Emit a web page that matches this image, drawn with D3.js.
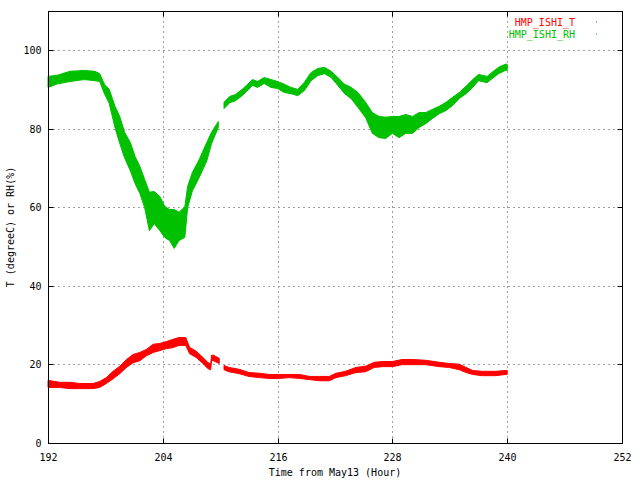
<!DOCTYPE html>
<html>
<head>
<meta charset="utf-8">
<script src="https://cdn.jsdelivr.net/npm/d3@7"></script>
<style>
  html, body { margin: 0; padding: 0; background: #fff; }
  svg { display: block; }
  text { font-family: "DejaVu Sans Mono", "Liberation Mono", monospace; font-size: 10px; fill: #000; }
</style>
</head>
<body>
<svg id="chart" width="640" height="480"></svg>
<script>
// ---- Data ----
const xTicks = [192, 204, 216, 228, 240, 252];
const yTicks = [0, 20, 40, 60, 80, 100];

// RH series: hour, lower and upper edge of the noisy band (null = gap in record)
const rhHour = [192.0,193.0,194.3,195.8,196.9,197.4,197.9,198.4,199.0,199.5,200.0,200.6,201.1,201.6,202.1,202.6,203.1,203.7,204.2,204.7,205.2,205.7,206.3,206.6,207.1,207.8,208.6,209.1,209.8,210.1,210.4,211.0,211.6,212.3,213.4,213.9,214.6,215.3,216.0,216.7,217.4,218.1,218.8,219.5,220.2,220.9,221.6,222.3,223.0,223.7,224.4,225.2,225.9,226.6,227.3,228.0,228.7,229.4,230.1,230.8,231.5,232.2,232.9,233.6,234.3,235.0,235.7,236.4,237.0,237.9,238.4,239.1,239.8,240.0];
const rhLow  = [90.7,91.6,92.2,92.7,92.4,92.2,89.1,86.6,80.5,76.4,72.8,69.5,66.2,63.7,60.1,54.2,56.0,54.2,52.5,51.7,49.7,51.7,52.5,60.1,64.4,67.7,72.0,76.4,80.5,null,85.3,86.8,87.3,88.6,91.2,90.7,91.7,90.7,90.4,89.4,89.1,88.6,89.9,92.4,93.7,94.2,93.2,91.2,89.1,87.8,85.6,83.0,79.0,77.9,77.7,79.0,77.9,79.0,79.0,80.5,81.5,82.8,84.0,84.8,86.1,87.9,89.1,90.7,92.4,91.9,92.9,94.2,95.0,95.0];
const rhHigh = [93.2,93.5,94.5,94.7,94.5,93.9,91.2,89.9,85.6,83.0,79.0,76.4,72.8,70.3,67.0,63.7,63.9,62.6,60.1,59.3,59.3,58.6,60.0,65.2,68.8,72.0,76.4,79.0,81.7,null,86.6,88.1,88.6,89.9,92.4,91.9,92.9,92.4,91.9,91.2,90.4,89.9,91.7,94.2,95.2,95.5,94.5,92.9,91.2,90.4,89.1,86.6,84.0,83.0,82.8,83.0,83.0,83.5,83.0,84.0,84.0,84.8,85.6,86.6,87.9,89.1,90.7,92.4,93.7,93.2,94.2,95.5,96.3,96.3];

// T series
const tHour = [192.0,193.2,194.3,195.3,196.7,197.4,198.1,198.8,199.5,200.2,200.9,201.6,202.3,203.0,203.7,204.4,205.0,205.7,206.4,206.8,207.5,208.2,208.7,209.0,209.1,209.3,209.9,210.1,210.4,210.9,212.0,213.0,214.1,215.1,216.2,217.2,218.3,219.3,220.4,221.4,222.1,223.1,224.2,225.2,226.1,227.0,228.0,229.0,230.1,231.5,232.9,233.9,235.0,235.7,236.4,237.4,238.8,239.8,240.0];
const tLow  = [14.3,14.3,14.0,14.0,14.0,14.3,15.3,16.5,17.8,19.4,20.6,21.1,22.4,23.2,23.7,24.2,24.4,25.0,25.0,22.9,21.9,20.4,19.1,18.8,21.1,21.1,20.4,null,18.8,18.3,17.8,17.1,16.8,16.6,16.6,16.8,16.6,16.3,16.0,16.0,16.8,17.3,18.1,18.3,19.4,19.6,19.6,20.1,20.1,20.1,19.6,19.4,18.8,18.1,17.6,17.3,17.3,17.6,17.6];
const tHigh = [15.8,15.3,15.3,15.0,15.0,15.5,16.5,18.1,19.4,21.1,22.4,22.9,23.7,25.0,25.2,25.7,26.2,26.7,26.7,24.2,23.2,21.6,20.4,19.9,22.2,22.2,21.4,null,19.6,19.1,18.6,17.8,17.6,17.3,17.3,17.3,17.3,16.8,16.8,16.8,17.6,18.1,19.1,19.4,20.4,20.6,20.6,21.1,21.1,20.9,20.4,20.1,19.9,19.1,18.3,18.1,18.1,18.3,18.3];

const seriesNames = ["HMP_ISHI_T", "HMP_ISHI_RH"];
const seriesColors = ["#ff0000", "#00c000"];
const xLabel = "Time from May13 (Hour)";
const yLabel = "T (degreeC) or RH(%)";

// ---- Drawing ----
const svg = d3.select("#chart");
const L = 48, R = 622, T = 11, B = 443;
const x = d3.scaleLinear().domain([192, 252]).range([L, R]);
const y = d3.scaleLinear().domain([0, 110]).range([B, T]);
const px = v => Math.round(v) + 0.5;

// grid
const grid = svg.append("g").attr("stroke", "#a0a0a0").attr("stroke-width", 1).attr("stroke-dasharray", "2,3");
xTicks.filter(t => t > 192 && t < 252).forEach(t => {
  grid.append("line").attr("x1", px(x(t))).attr("x2", px(x(t))).attr("y1", T).attr("y2", B);
});
yTicks.filter(t => t > 0).forEach(t => {
  grid.append("line").attr("x1", L).attr("x2", R).attr("y1", px(y(t))).attr("y2", px(y(t)));
});

// series bands
function band(hours, lo, hi) {
  return hours.map((h, i) => ({h, lo: lo[i], hi: hi[i]}));
}
const area = d3.area()
  .defined(d => d.lo != null && d.hi != null)
  .x(d => x(d.h))
  .y0(d => y(d.lo) + 0.6)
  .y1(d => y(d.hi) - 0.6);

const seriesData = [band(tHour, tLow, tHigh), band(rhHour, rhLow, rhHigh)];
seriesData.forEach((data, i) => {
  svg.append("path").datum(data)
    .attr("d", area)
    .attr("fill", seriesColors[i])
    .attr("stroke", seriesColors[i])
    .attr("stroke-width", 1);
});

// axes with inward ticks
const axB = svg.append("g").attr("transform", `translate(0,${B + 0.5})`)
  .call(d3.axisBottom(x).tickValues(xTicks).tickSize(-5).tickPadding(10).tickFormat(d3.format("d")));
const axT = svg.append("g").attr("transform", `translate(0,${T + 0.5})`)
  .call(d3.axisTop(x).tickValues(xTicks).tickSize(-5).tickFormat(""));
const axL = svg.append("g").attr("transform", `translate(${L + 0.5},0)`)
  .call(d3.axisLeft(y).tickValues(yTicks).tickSize(-5).tickPadding(7).tickFormat(d3.format("d")));
const axR = svg.append("g").attr("transform", `translate(${R + 0.5},0)`)
  .call(d3.axisRight(y).tickValues(yTicks).tickSize(-5).tickFormat(""));
[axB, axT, axL, axR].forEach(a => {
  a.select(".domain").remove();
  a.selectAll(".tick line").attr("stroke", "#000");
  a.selectAll("text").attr("font-family", null).attr("font-size", null).attr("fill", "#000");
  a.attr("font-family", null).attr("font-size", null);
});
axB.selectAll(".tick").attr("transform", d => `translate(${px(x(d))},0)`);
axL.selectAll(".tick").attr("transform", d => `translate(0,${px(y(d))})`);
axR.selectAll(".tick").attr("transform", d => `translate(0,${px(y(d))})`);
axT.selectAll(".tick").attr("transform", d => `translate(${px(x(d))},0)`);

// border
svg.append("rect").attr("x", L + 0.5).attr("y", T + 0.5).attr("width", R - L).attr("height", B - T)
  .attr("fill", "none").attr("stroke", "#000").attr("stroke-width", 1);

// axis labels
svg.append("text").attr("x", (L + R) / 2).attr("y", 476).attr("text-anchor", "middle").text(xLabel);
svg.append("text").attr("transform", `translate(14,${(T + B) / 2}) rotate(-90)`)
  .attr("text-anchor", "middle").text(yLabel);

// legend
const legY = [22, 34];
seriesNames.forEach((n, i) => {
  svg.append("text").attr("x", 575).attr("y", legY[i]).attr("dy", "0.36em")
    .attr("text-anchor", "end").attr("fill", seriesColors[i]).style("fill", seriesColors[i]).text(n);
  svg.append("rect").attr("x", 596).attr("y", legY[i] - 0.5).attr("width", 1).attr("height", 1)
    .attr("fill", seriesColors[i]);
});
</script>
</body>
</html>
